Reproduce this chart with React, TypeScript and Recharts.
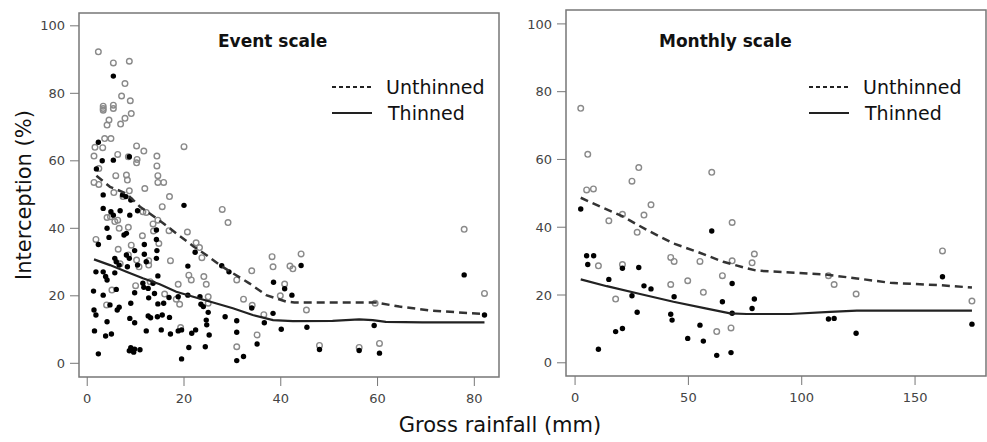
import React from 'react';
import { ComposedChart, Scatter, XAxis, YAxis, ReferenceArea } from 'recharts';

// Event scale — unthinned plots (hollow) and thinned plots (filled), [rainfall mm, interception %]
const eventUnthinned: [number, number][] = [
    [2.3, 92.3], [5.4, 89.0], [8.7, 89.5], [7.8, 82.9], [7.1, 79.2], [8.9, 77.8], [3.3, 76.2], [3.3, 75.5],
    [3.3, 75.0], [5.4, 76.5], [5.4, 75.5], [4.5, 72.1], [4.1, 70.6], [6.9, 70.9], [7.8, 72.6], [9.1, 74.0],
    [3.6, 66.6], [4.9, 66.6], [1.6, 64.0], [3.2, 63.9], [1.4, 61.4], [2.4, 57.7], [6.3, 61.9], [10.2, 64.4],
    [11.7, 62.9], [10.2, 59.4], [10.3, 60.4], [8.5, 61.2], [14.4, 61.4], [14.4, 58.5], [20.0, 64.2], [1.4, 53.6],
    [2.4, 53.0], [5.9, 55.6], [8.1, 55.8], [8.3, 54.3], [5.5, 50.6], [8.7, 51.1], [11.9, 51.8], [14.6, 55.6],
    [14.6, 53.6], [15.8, 53.6], [17.0, 49.4], [15.5, 46.4], [7.4, 49.4], [4.1, 43.2], [4.8, 43.4], [5.7, 42.0],
    [6.3, 42.4], [6.6, 40.0], [8.5, 40.3], [11.5, 44.9], [12.2, 44.7], [11.4, 37.8], [13.6, 41.3], [14.6, 42.4],
    [13.7, 39.2], [16.9, 39.3], [14.8, 35.5], [27.9, 45.6], [29.1, 41.7], [20.7, 38.9], [22.5, 35.7], [23.2, 34.3],
    [23.7, 31.3], [1.8, 36.7], [6.4, 33.8], [9.1, 35.0], [10.2, 30.6], [12.7, 30.4], [17.2, 30.4], [10.7, 28.6],
    [12.7, 29.1], [21.0, 26.1], [21.5, 24.7], [24.1, 25.7], [24.6, 23.4], [25.0, 19.7], [25.0, 17.8], [18.8, 23.4],
    [18.4, 19.0], [19.1, 17.5], [19.3, 10.6], [10.0, 23.0], [5.1, 21.7], [4.0, 17.3], [30.9, 24.7], [32.3, 19.0],
    [34.0, 27.4], [34.1, 17.2], [35.1, 8.4], [36.5, 14.4], [38.2, 31.6], [38.4, 28.6], [39.9, 20.0], [40.8, 23.5],
    [41.9, 28.8], [42.5, 28.0], [44.2, 32.4], [45.3, 15.8], [30.9, 4.9], [48.0, 5.3], [56.2, 4.7], [59.5, 17.8],
    [60.4, 5.9], [77.9, 39.7], [82.1, 20.7], [8.5, 32.1], [6.8, 29.5], [13.0, 24.2], [16.0, 20.5],
];

const eventThinned: [number, number][] = [
    [5.4, 85.1], [2.3, 65.5], [3.1, 60.0], [5.4, 60.2], [8.7, 61.2], [1.9, 57.6], [3.3, 49.9], [7.3, 49.9],
    [8.0, 49.4], [9.0, 48.4], [3.3, 45.9], [4.9, 44.9], [5.4, 43.9], [6.8, 45.2], [8.8, 43.9], [10.4, 45.2],
    [4.1, 40.0], [4.5, 37.3], [8.1, 38.5], [7.6, 38.0], [11.8, 35.2], [14.3, 39.5], [14.3, 36.7], [14.4, 33.4],
    [14.3, 31.1], [2.3, 35.2], [20.0, 46.8], [1.8, 27.1], [3.3, 27.1], [3.8, 25.7], [4.1, 24.7], [5.7, 31.1],
    [6.0, 30.1], [6.6, 29.1], [8.1, 32.1], [8.7, 31.1], [8.3, 28.6], [9.8, 33.4], [10.4, 29.1], [11.8, 32.3],
    [12.2, 30.1], [5.7, 26.8], [14.6, 25.9], [11.5, 23.7], [11.7, 22.5], [13.6, 23.7], [13.9, 20.7], [12.6, 22.2],
    [9.8, 20.9], [6.0, 21.9], [1.3, 21.4], [3.3, 20.2], [4.7, 17.3], [6.6, 16.6], [6.2, 15.8], [9.0, 17.8],
    [12.7, 19.4], [14.6, 17.6], [15.8, 17.8], [16.9, 19.5], [18.8, 19.7], [20.8, 20.2], [20.8, 28.8], [22.3, 32.9],
    [23.3, 19.7], [23.5, 17.5], [24.0, 16.8], [25.0, 15.1], [24.6, 12.8], [24.7, 11.4], [25.2, 8.4], [24.4, 4.9],
    [27.8, 28.9], [29.3, 27.1], [28.5, 13.8], [30.9, 12.6], [30.9, 9.2], [30.9, 0.8], [32.3, 2.0], [34.0, 16.4],
    [35.1, 5.7], [36.6, 12.0], [38.4, 14.8], [38.5, 24.0], [40.1, 10.1], [40.8, 22.1], [42.3, 20.2], [44.2, 29.0],
    [45.4, 10.7], [48.0, 4.1], [56.2, 3.8], [59.3, 11.2], [60.4, 3.0], [77.9, 26.2], [82.1, 14.3], [1.4, 15.8],
    [1.8, 14.3], [1.5, 9.6], [2.3, 2.8], [4.1, 12.3], [3.8, 8.1], [5.0, 8.7], [8.8, 13.3], [9.8, 12.0],
    [8.7, 3.7], [9.0, 4.6], [9.6, 3.3], [9.8, 4.2], [10.9, 4.0], [12.2, 9.6], [12.6, 14.0], [13.1, 13.5],
    [14.5, 13.8], [15.5, 14.3], [17.0, 13.6], [15.3, 9.9], [17.2, 8.7], [18.8, 9.6], [19.5, 9.9], [19.5, 1.3],
    [21.0, 4.7], [21.6, 8.9], [22.4, 9.9],
];

// Event scale — fitted curves
const eventUnthinnedFit: [number, number][] = [
    [1.9, 55.6], [4.7, 52.3], [8.1, 50.3], [10.9, 46.4], [12.9, 44.4], [15.7, 41.5], [18.4, 38.5], [21.9, 34.7],
    [24.6, 32.1], [27.4, 29.1], [30.1, 26.7], [33.5, 23.7], [37.0, 20.2], [41.1, 18.3], [42.8, 18.0], [59.7, 18.0],
    [64.5, 16.8], [71.3, 15.6], [82.1, 14.6],
];
const eventThinnedFit: [number, number][] = [
    [1.4, 30.8], [4.7, 29.1], [8.1, 27.1], [11.5, 25.2], [15.0, 23.4], [18.4, 21.2], [21.9, 19.7], [25.3, 18.3],
    [30.1, 16.3], [34.2, 14.3], [38.4, 12.8], [42.5, 12.5], [50.7, 12.6], [56.2, 13.0], [59.0, 12.8], [61.7, 12.3],
    [69.3, 12.1], [82.1, 12.1],
];

// Monthly scale
const monthlyUnthinned: [number, number][] = [
    [2.5, 75.1], [5.6, 61.5], [5.1, 51.0], [8.1, 51.3], [10.3, 28.6], [14.9, 41.9], [17.9, 18.8], [20.9, 43.8],
    [20.9, 29.0], [25.1, 53.6], [28.1, 57.6], [27.4, 38.5], [30.4, 43.6], [33.5, 46.6], [42.2, 31.1], [43.7, 29.9],
    [42.2, 23.1], [49.7, 24.2], [55.1, 29.9], [56.6, 20.8], [60.3, 56.2], [62.5, 9.2], [65.0, 25.7], [69.3, 41.4],
    [69.3, 30.1], [68.8, 10.3], [78.1, 29.5], [79.1, 32.1], [111.8, 25.7], [114.3, 23.1], [124.0, 20.3],
    [162.1, 33.0], [175.1, 18.2],
];
const monthlyThinned: [number, number][] = [
    [2.5, 45.4], [5.1, 31.6], [8.2, 31.6], [5.6, 29.0], [10.3, 4.0], [14.9, 24.6], [17.9, 9.2], [20.9, 27.9],
    [20.9, 10.1], [25.1, 19.8], [27.4, 14.9], [28.1, 28.1], [30.4, 22.7], [33.5, 21.8], [42.2, 14.3], [42.8, 12.6],
    [43.7, 19.5], [49.7, 7.2], [55.1, 11.1], [56.6, 6.4], [60.3, 38.9], [62.5, 2.2], [65.0, 18.0], [69.3, 23.4],
    [69.3, 14.6], [68.8, 3.0], [78.1, 16.0], [79.1, 18.8], [111.8, 12.9], [114.3, 13.1], [124.0, 8.7],
    [162.1, 25.4], [175.1, 11.4],
];
const monthlyUnthinnedFit: [number, number][] = [
    [2.5, 48.7], [11.0, 46.1], [21.3, 43.1], [31.6, 39.2], [43.4, 35.2], [53.7, 32.8], [65.4, 29.8], [75.7, 27.9],
    [80.1, 27.2], [109.6, 26.1], [124.3, 24.9], [139.0, 23.6], [161.0, 22.9], [175.1, 22.2],
];
const monthlyThinnedFit: [number, number][] = [
    [2.5, 24.6], [14.0, 22.6], [28.7, 20.3], [43.4, 18.0], [58.1, 16.0], [68.4, 14.6], [75.7, 14.4], [94.9, 14.4],
    [112.5, 15.0], [124.3, 15.4], [175.1, 15.4],
];

const yTicks = [0, 20, 40, 60, 80, 100];
const eventXTicks = [0, 20, 40, 60, 80];
const monthlyXTicks = [0, 50, 100, 150];

const FONT = '"DejaVu Sans", Verdana, sans-serif';
const AXIS_GRAY = '#777';

const toPts = (arr: [number, number][]) => arr.map(([x, y]) => ({ x, y }));

const Hollow = (p: any) => <circle cx={p.cx} cy={p.cy} r={2.8} fill="none" stroke="#8a8a8a" strokeWidth={1.4} />;
const Filled = (p: any) => <circle cx={p.cx} cy={p.cy} r={2.7} fill="#000" />;
const NoDot = () => <g />;

interface PanelProps {
    width: number;
    yAxisWidth: number;
    margin: { top: number; right: number; bottom: number; left: number };
    xDomain: [number, number];
    yDomain: [number, number];
    xTicks: number[];
    unthinned: [number, number][];
    thinned: [number, number][];
    unthinnedFit: [number, number][];
    thinnedFit: [number, number][];
}

const tickStyle = { fill: '#444', fontSize: 13, fontFamily: FONT };

const Panel: React.FC<PanelProps> = (p) => (
    <ComposedChart width={p.width} height={442} margin={p.margin}>
        <XAxis
            type="number"
            dataKey="x"
            domain={p.xDomain}
            ticks={p.xTicks}
            axisLine={false}
            tickLine={{ stroke: AXIS_GRAY }}
            tickSize={9}
            tickMargin={8}
            tick={tickStyle}
            height={30}
            allowDataOverflow
        />
        <YAxis
            type="number"
            dataKey="y"
            domain={p.yDomain}
            ticks={yTicks}
            axisLine={false}
            tickLine={{ stroke: AXIS_GRAY }}
            tickSize={9}
            tickMargin={5}
            tick={tickStyle}
            width={p.yAxisWidth}
            allowDataOverflow
        />
        <ReferenceArea
            x1={p.xDomain[0]}
            x2={p.xDomain[1]}
            y1={p.yDomain[0]}
            y2={p.yDomain[1]}
            fill="none"
            fillOpacity={0}
            stroke={AXIS_GRAY}
            strokeWidth={1.5}
        />
        <Scatter data={toPts(p.unthinned)} shape={Hollow} isAnimationActive={false} />
        <Scatter data={toPts(p.thinned)} shape={Filled} isAnimationActive={false} />
        <Scatter
            data={toPts(p.unthinnedFit)}
            shape={NoDot}
            line={{ stroke: '#333', strokeWidth: 2.5, strokeDasharray: '8 5' }}
            isAnimationActive={false}
        />
        <Scatter
            data={toPts(p.thinnedFit)}
            shape={NoDot}
            line={{ stroke: '#222', strokeWidth: 2.2 }}
            isAnimationActive={false}
        />
    </ComposedChart>
);

const LegendBlock: React.FC<{ left: number; top: number }> = ({ left, top }) => (
    <div style={{ position: 'absolute', left, top, fontFamily: FONT, fontSize: 19, color: '#111' }}>
        <div style={{ display: 'flex', alignItems: 'center', height: 26 }}>
            <svg width={54} height={10}>
                <line x1={0} y1={5} x2={40} y2={5} stroke="#222" strokeWidth={2} strokeDasharray="4 3" />
            </svg>
            <span>Unthinned</span>
        </div>
        <div style={{ display: 'flex', alignItems: 'center', height: 26 }}>
            <svg width={56} height={10}>
                <line x1={0} y1={5} x2={40} y2={5} stroke="#222" strokeWidth={2.2} />
            </svg>
            <span>Thinned</span>
        </div>
    </div>
);

export default function App() {
    return (
        <div style={{ position: 'absolute', left: 0, top: 0, width: 987, height: 442, background: '#fff', overflow: 'hidden' }}>
            <div style={{ position: 'absolute', left: 0, top: 0 }}>
                <Panel
                    width={510}
                    yAxisWidth={79}
                    margin={{ top: 13, right: 11, bottom: 35, left: 0 }}
                    xDomain={[-1.7, 85.1]}
                    yDomain={[-4.06, 103.8]}
                    xTicks={eventXTicks}
                    unthinned={eventUnthinned}
                    thinned={eventThinned}
                    unthinnedFit={eventUnthinnedFit}
                    thinnedFit={eventThinnedFit}
                />
            </div>
            <div style={{ position: 'absolute', left: 510, top: 0 }}>
                <Panel
                    width={477}
                    yAxisWidth={56}
                    margin={{ top: 10, right: 1, bottom: 36, left: 0 }}
                    xDomain={[-4, 181.3]}
                    yDomain={[-3.9, 104.1]}
                    xTicks={monthlyXTicks}
                    unthinned={monthlyUnthinned}
                    thinned={monthlyThinned}
                    unthinnedFit={monthlyUnthinnedFit}
                    thinnedFit={monthlyThinnedFit}
                />
            </div>

            <div style={{ position: 'absolute', left: 218, top: 31, fontFamily: FONT, fontSize: 17, fontWeight: 'bold', color: '#111' }}>
                Event scale
            </div>
            <div style={{ position: 'absolute', left: 659, top: 31, fontFamily: FONT, fontSize: 17, fontWeight: 'bold', color: '#111' }}>
                Monthly scale
            </div>
            <LegendBlock left={332} top={74} />
            <LegendBlock left={809} top={74} />

            <div
                style={{
                    position: 'absolute',
                    left: 24,
                    top: 195,
                    transform: 'translate(-50%, -50%) rotate(-90deg)',
                    whiteSpace: 'nowrap',
                    fontFamily: FONT,
                    fontSize: 21,
                    color: '#111',
                }}
            >
                Interception (%)
            </div>
            <div
                style={{
                    position: 'absolute',
                    left: 500,
                    top: 425,
                    transform: 'translate(-50%, -50%)',
                    whiteSpace: 'nowrap',
                    fontFamily: FONT,
                    fontSize: 21,
                    color: '#111',
                }}
            >
                Gross rainfall (mm)
            </div>
        </div>
    );
}
